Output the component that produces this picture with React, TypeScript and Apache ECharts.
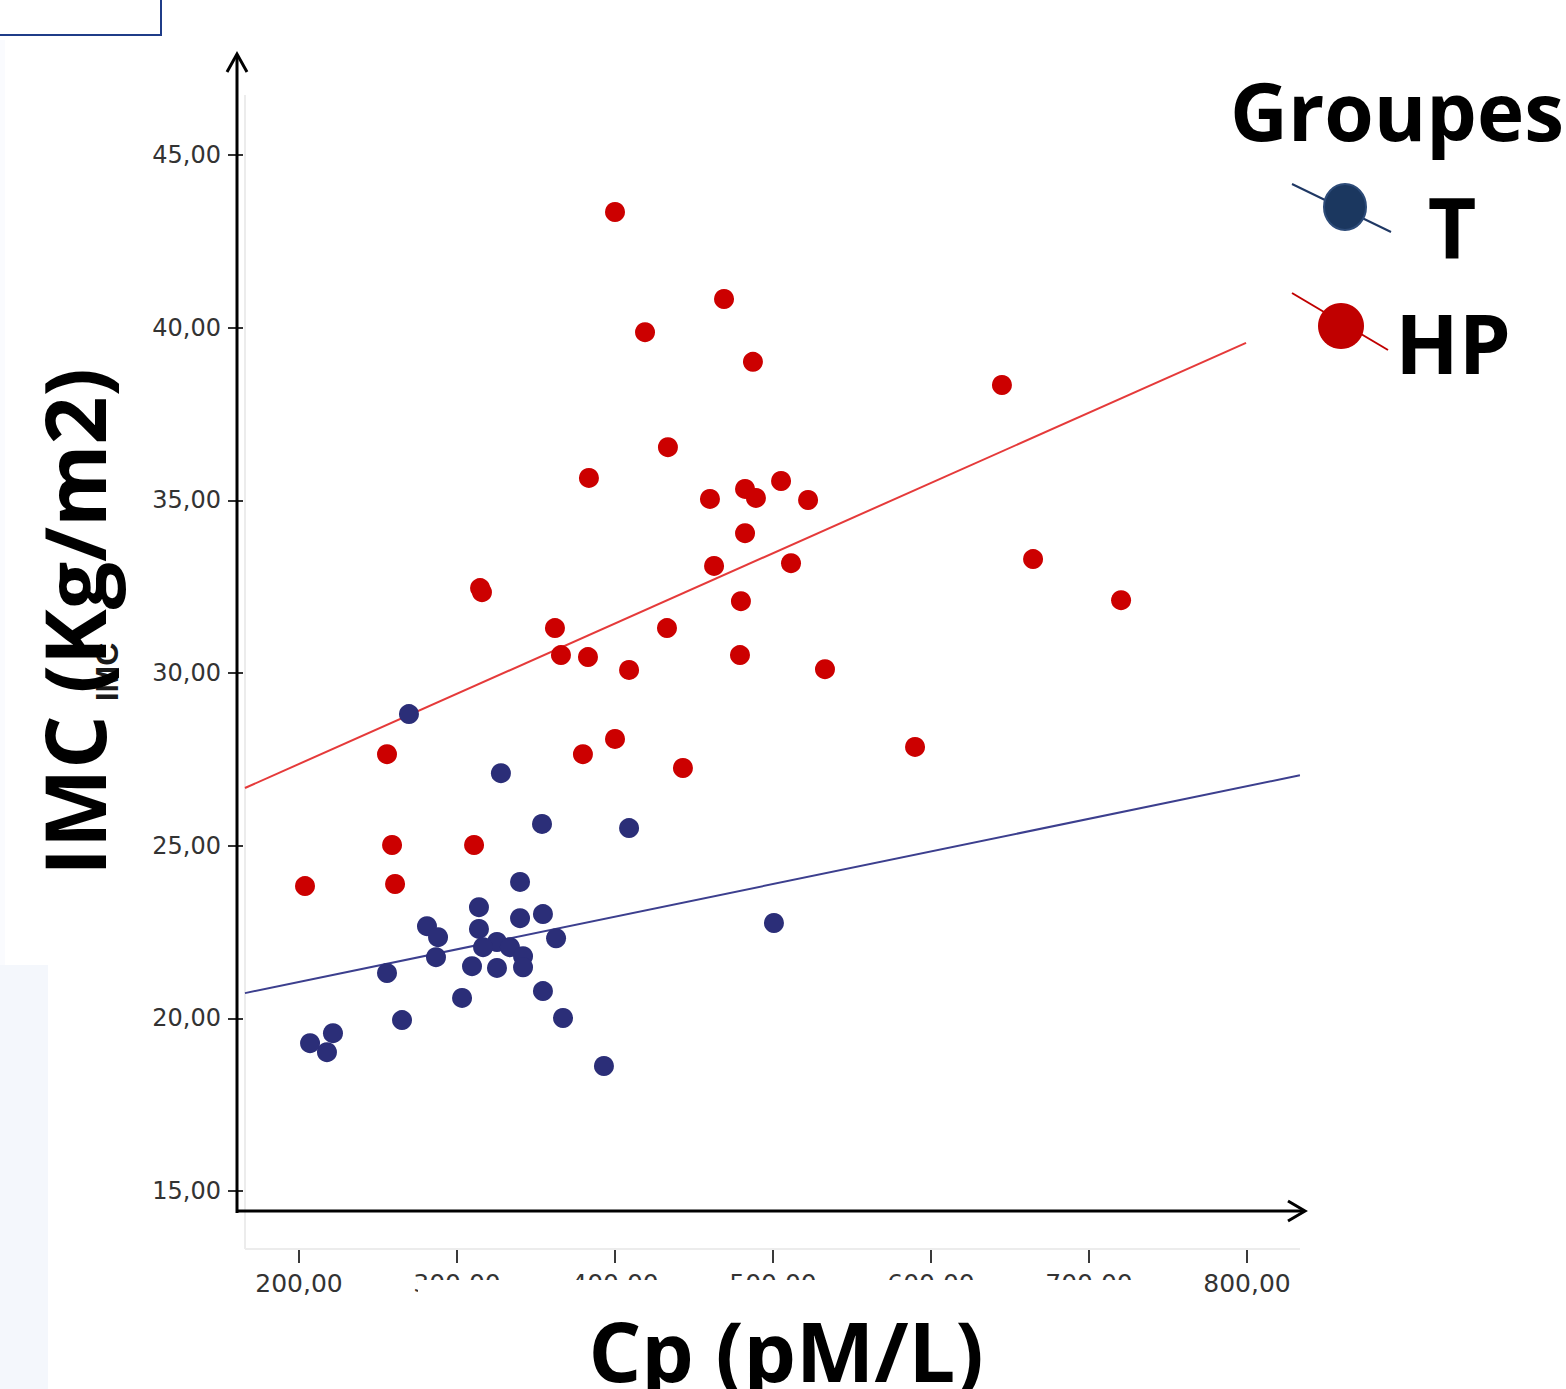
import React, { useEffect, useRef } from "react";
import * as echarts from "echarts";

// Cp (pM/L) and IMC (Kg/m2) values
const hpCp = [203.8, 255.7, 258.9, 260.8, 314.6, 315.8, 310.8, 362.0, 365.8, 383.5, 382.9, 379.7, 400.0, 400.0, 408.9, 419.0, 433.5, 432.9, 443.0, 460.1, 462.7, 469.0, 482.3, 482.3, 479.7, 479.1, 487.3, 489.2, 505.1, 522.2, 511.4, 532.9, 589.9, 644.9, 664.6, 720.3];
const hpImc = [23.83, 27.65, 25.02, 23.89, 32.46, 32.34, 25.02, 31.30, 30.52, 35.65, 30.46, 27.65, 43.35, 28.09, 30.09, 39.87, 36.54, 31.30, 27.25, 35.04, 33.10, 40.83, 35.33, 34.05, 32.08, 30.52, 39.01, 35.07, 35.56, 35.01, 33.18, 30.11, 27.86, 38.34, 33.30, 32.11];

const tCp = [339.9, 313.9, 339.9, 354.4, 281.0, 313.9, 288.0, 362.7, 325.3, 316.5, 333.5, 341.8, 341.8, 286.7, 255.7, 309.5, 325.3, 303.2, 354.4, 265.2, 367.1, 207.0, 217.7, 221.5, 393.0, 269.6, 327.8, 353.8, 408.9, 500.6];
const tImc = [23.95, 23.22, 22.90, 23.02, 22.67, 22.59, 22.35, 22.32, 22.21, 22.06, 22.06, 21.80, 21.48, 21.77, 21.31, 21.51, 21.46, 20.59, 20.79, 19.95, 20.01, 19.28, 19.02, 19.57, 18.62, 28.81, 27.10, 25.63, 25.51, 22.76];

// fit line end points
const hpFitCp = [165.8, 799.4];
const hpFitImc = [26.67, 39.56];
const tFitCp = [165.8, 833.5];
const tFitImc = [20.73, 27.04];

const xTicks = [200, 300, 400, 500, 600, 700, 800];
const groups = ["T", "HP"];

const fmt = (v: number) => v.toFixed(2).replace(".", ",");
const zip = (a: number[], b: number[]) => a.map((v, i) => [v, b[i]]);

export default function App() {
  const ref = useRef<HTMLDivElement>(null);
  useEffect(() => {
    if (!ref.current) return;
    const chart = echarts.init(ref.current, null, { renderer: "svg" });
    const bold = "'Open Sans', 'Noto Sans', sans-serif";
    chart.setOption({
      animation: false,
      backgroundColor: "#ffffff",
      grid: { left: 141, top: 155, width: 1264, height: 1036 },
      xAxis: {
        type: "value",
        min: 100,
        max: 900,
        interval: 100,
        offset: 58,
        splitLine: { show: false },
        axisLine: { show: false },
        axisTick: {
          show: true,
          customValues: xTicks,
          length: 14,
          lineStyle: { color: "#3a3a3a", width: 2 },
        },
        axisLabel: {
          customValues: xTicks,
          formatter: (v: number) => fmt(v),
          fontFamily: "'DejaVu Sans', sans-serif",
          fontSize: 25,
          color: "#333333",
          margin: 22,
        },
      },
      yAxis: {
        type: "value",
        min: 15,
        max: 45,
        interval: 5,
        offset: -102,
        splitLine: { show: false },
        axisLine: { show: false },
        axisTick: { show: true, length: 15, lineStyle: { color: "#333333", width: 2 } },
        axisLabel: {
          formatter: (v: number) => fmt(v),
          fontFamily: "'DejaVu Sans', sans-serif",
          fontSize: 24,
          color: "#333333",
          margin: 22,
        },
      },
      series: [
        {
          name: "HP fit",
          type: "line",
          data: zip(hpFitCp, hpFitImc),
          showSymbol: false,
          lineStyle: { color: "#e53a3a", width: 2 },
          z: 2,
        },
        {
          name: "T fit",
          type: "line",
          data: zip(tFitCp, tFitImc),
          showSymbol: false,
          lineStyle: { color: "#3c3f8e", width: 2 },
          z: 2,
        },
        {
          name: groups[1],
          type: "scatter",
          data: zip(hpCp, hpImc),
          symbolSize: 20,
          itemStyle: { color: "#cc0000", opacity: 1 },
          z: 3,
        },
        {
          name: groups[0],
          type: "scatter",
          data: zip(tCp, tImc),
          symbolSize: 20,
          itemStyle: { color: "#2b2e78", opacity: 1 },
          z: 3,
        },
      ],
      graphic: [
        // faint side bands
        { type: "rect", z: 0, shape: { x: 0, y: 965, width: 48, height: 424 }, style: { fill: "#f4f7fc" } },
        { type: "rect", z: 0, shape: { x: 0, y: 40, width: 5, height: 925 }, style: { fill: "#fafbfe" } },
        // top-left box
        { type: "rect", z: 10, shape: { x: -3, y: -3, width: 164, height: 38 }, style: { fill: "none", stroke: "#1f3c88", lineWidth: 2 } },
        // faint frame
        { type: "line", z: 1, shape: { x1: 245, y1: 95, x2: 245, y2: 1249 }, style: { stroke: "#ececec", lineWidth: 2 } },
        { type: "line", z: 1, shape: { x1: 245, y1: 1249, x2: 1300, y2: 1249 }, style: { stroke: "#ececec", lineWidth: 2 } },
        // black arrow axes
        { type: "line", z: 20, shape: { x1: 237, y1: 1213, x2: 237, y2: 56 }, style: { stroke: "#000", lineWidth: 3 } },
        { type: "polyline", z: 20, shape: { points: [[227, 72], [237, 54], [247, 72]] }, style: { stroke: "#000", lineWidth: 3, fill: "none" } },
        { type: "line", z: 20, shape: { x1: 236, y1: 1211, x2: 1304, y2: 1211 }, style: { stroke: "#000", lineWidth: 3 } },
        { type: "polyline", z: 20, shape: { points: [[1288, 1201], [1305, 1211], [1288, 1221]] }, style: { stroke: "#000", lineWidth: 3, fill: "none" } },
        // white mask over part of x labels
        { type: "rect", z: 50, shape: { x: 418, y: 1280, width: 772, height: 109 }, style: { fill: "#ffffff" } },
        // axis titles
        {
          type: "text", z: 60, x: 786, y: 1349,
          style: { text: "Cp (pM/L)", font: `700 83px ${bold}`, fill: "#000", align: "center", verticalAlign: "middle" },
        },
        {
          type: "text", z: 60, x: 107, y: 672, rotation: Math.PI / 2,
          style: { text: "IMC", font: "700 32px 'Liberation Sans', sans-serif", fill: "#1a1a1a", align: "center", verticalAlign: "middle" },
        },
        {
          type: "text", z: 61, x: 73, y: 622, rotation: Math.PI / 2,
          style: { text: "IMC (Kg/m2)", font: `700 84px ${bold}`, fill: "#000", align: "center", verticalAlign: "middle" },
        },
        // legend
        {
          type: "text", z: 60, x: 1397, y: 109,
          style: { text: "Groupes", font: `700 80px ${bold}`, fill: "#000", align: "center", verticalAlign: "middle" },
        },
        { type: "line", z: 60, shape: { x1: 1292, y1: 184, x2: 1391, y2: 232 }, style: { stroke: "#1f3864", lineWidth: 2 } },
        { type: "ellipse", z: 61, shape: { cx: 1345, cy: 207, rx: 21, ry: 23 }, style: { fill: "#1b375f", stroke: "#2d4b78", lineWidth: 2 } },
        {
          type: "text", z: 60, x: 1452, y: 226,
          style: { text: groups[0], font: `700 84px ${bold}`, fill: "#000", align: "center", verticalAlign: "middle" },
        },
        { type: "line", z: 60, shape: { x1: 1292, y1: 293, x2: 1388, y2: 350 }, style: { stroke: "#c00000", lineWidth: 2 } },
        { type: "circle", z: 61, shape: { cx: 1341, cy: 326, r: 23 }, style: { fill: "#c00000" } },
        {
          type: "text", z: 60, x: 1453, y: 341,
          style: { text: groups[1], font: `700 83px ${bold}`, fill: "#000", align: "center", verticalAlign: "middle" },
        },
      ],
    });
    return () => chart.dispose();
  }, []);
  return (
    <div
      ref={ref}
      style={{ position: "fixed", left: 0, top: 0, width: 1566, height: 1389 }}
    />
  );
}
